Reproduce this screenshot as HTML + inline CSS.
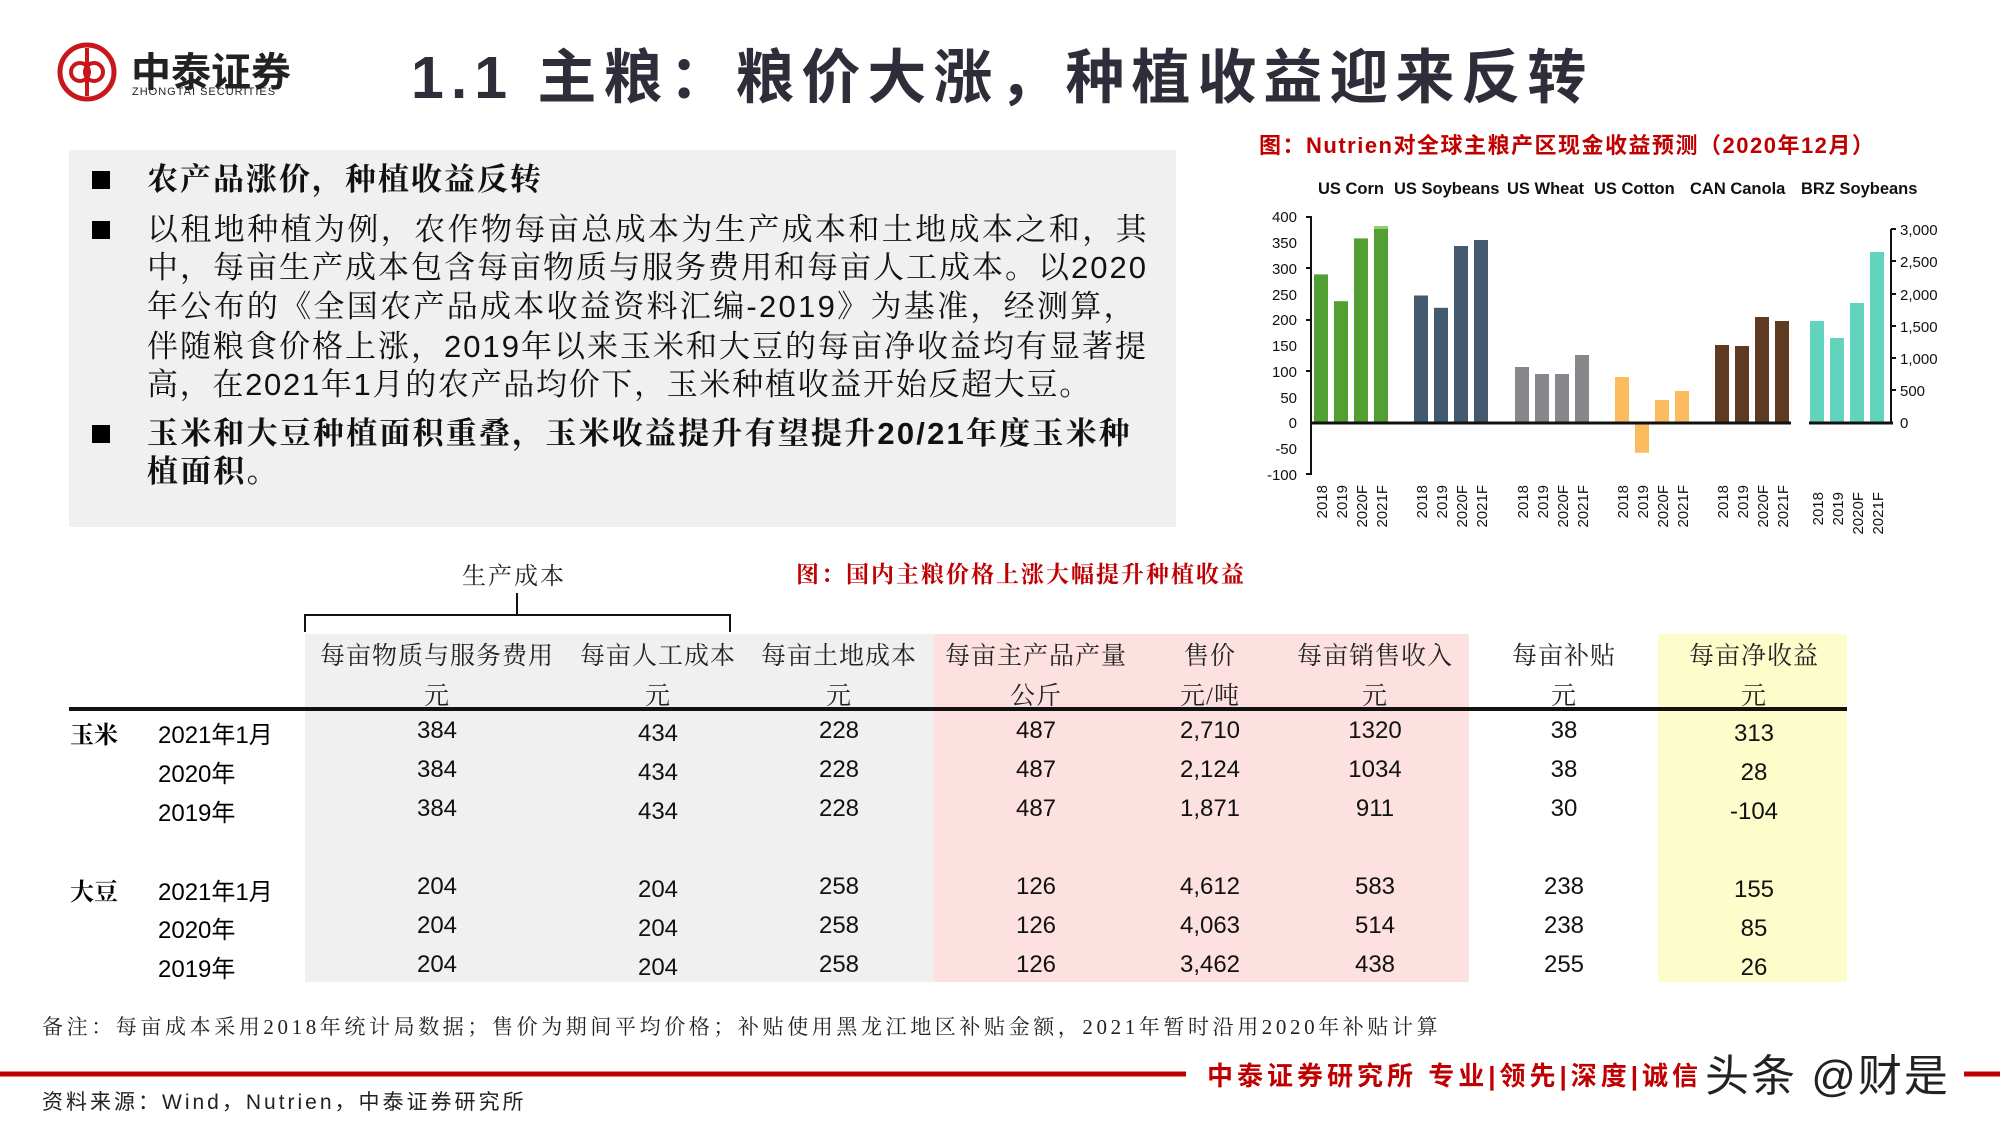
<!DOCTYPE html>
<html><head><meta charset="utf-8"><style>
body{margin:0;width:2000px;height:1125px;background:#fff;position:relative;overflow:hidden;font-family:"Liberation Sans","Noto Sans CJK SC",sans-serif}
.a{position:absolute;white-space:nowrap}
.bl{position:absolute;left:147px;font-size:31px;letter-spacing:2.4px;color:#111;line-height:38px;white-space:nowrap;font-family:"Liberation Sans","Noto Serif CJK SC",serif}
.sq{position:absolute;left:92px;width:18px;height:18px;background:#000}
.c{position:absolute;transform:translateX(-50%);font-size:24px;color:#111;white-space:nowrap}
.h{position:absolute;transform:translateX(-50%);font-size:25px;color:#222;white-space:nowrap;font-family:"Liberation Serif","Noto Serif CJK SC",serif;letter-spacing:1px}
.y{position:absolute;left:158px;font-size:24px}
</style></head><body>
<!-- logo -->
<svg class="a" style="left:55px;top:40px" width="64" height="64"><circle cx="32" cy="32" r="27" fill="none" stroke="#c8161d" stroke-width="5"/><circle cx="25" cy="32" r="9" fill="none" stroke="#c8161d" stroke-width="4"/><circle cx="39" cy="32" r="9" fill="none" stroke="#c8161d" stroke-width="4"/><line x1="32" y1="8" x2="32" y2="56" stroke="#c8161d" stroke-width="4"/></svg>
<div class="a" style="left:131px;top:40px;font-size:40px;font-weight:bold;color:#222">中泰证券</div>
<div class="a" style="left:132px;top:86px;font-size:11px;color:#222;letter-spacing:1px">ZHONGTAI SECURITIES</div>
<div class="a" style="left:411px;top:30px;font-size:59px;font-weight:bold;color:#2e2e3a;letter-spacing:7px">1.1 主粮：粮价大涨，种植收益迎来反转</div>
<!-- gray box -->
<div class="a" style="left:69px;top:150px;width:1107px;height:377px;background:#f0f0f0"></div>
<div class="sq" style="top:171px"></div><div class="bl" style="top:161px;font-weight:bold;letter-spacing:2px">农产品涨价，种植收益反转</div>
<div class="sq" style="top:221px"></div>
<div class="bl" style="top:211px;letter-spacing:2.4px">以租地种植为例，农作物每亩总成本为生产成本和土地成本之和，其</div>
<div class="bl" style="top:249px;letter-spacing:2px">中，每亩生产成本包含每亩物质与服务费用和每亩人工成本。以2020</div>
<div class="bl" style="top:288px;letter-spacing:2.3px">年公布的《全国农产品成本收益资料汇编-2019》为基准，经测算，</div>
<div class="bl" style="top:328px;letter-spacing:2px">伴随粮食价格上涨，2019年以来玉米和大豆的每亩净收益均有显著提</div>
<div class="bl" style="top:366px;letter-spacing:1.7px">高，在2021年1月的农产品均价下，玉米种植收益开始反超大豆。</div>
<div class="sq" style="top:425px"></div>
<div class="bl" style="top:415px;font-weight:bold;letter-spacing:2.2px">玉米和大豆种植面积重叠，玉米收益提升有望提升20/21年度玉米种</div>
<div class="bl" style="top:453px;font-weight:bold;letter-spacing:2.2px">植面积。</div>
<!-- chart -->
<svg class="a" style="left:0;top:0" width="2000" height="1125" font-family="Liberation Sans, sans-serif">
<text x="1259" y="153" font-size="22" font-weight="bold" fill="#c00000" font-family="Liberation Sans, Noto Sans CJK SC, sans-serif" letter-spacing="1.5">图：Nutrien对全球主粮产区现金收益预测（2020年12月）</text>
<g font-size="16.5" font-weight="bold" fill="#111">
<text x="1318" y="194">US Corn</text><text x="1394" y="194">US Soybeans</text><text x="1507" y="194">US Wheat</text><text x="1594" y="194">US Cotton</text><text x="1690" y="194">CAN Canola</text><text x="1801" y="194">BRZ Soybeans</text></g>
<g font-size="15" fill="#111" text-anchor="end">
<text x="1297" y="222">400</text><text x="1297" y="248">350</text><text x="1297" y="274">300</text><text x="1297" y="300">250</text><text x="1297" y="325">200</text><text x="1297" y="351">150</text><text x="1297" y="377">100</text><text x="1297" y="403">50</text><text x="1297" y="428">0</text><text x="1297" y="454">-50</text><text x="1297" y="480">-100</text></g>
<g font-size="15" fill="#111">
<text x="1900" y="235">3,000</text><text x="1900" y="267">2,500</text><text x="1900" y="300">2,000</text><text x="1900" y="332">1,500</text><text x="1900" y="364">1,000</text><text x="1900" y="396">500</text><text x="1900" y="428">0</text></g>
<g stroke="#111" stroke-width="2">
<line x1="1311" y1="216" x2="1311" y2="475"/>
<line x1="1306" y1="217" x2="1311" y2="217"/><line x1="1306" y1="268" x2="1311" y2="268"/><line x1="1306" y1="320" x2="1311" y2="320"/><line x1="1306" y1="371" x2="1311" y2="371"/><line x1="1306" y1="474" x2="1311" y2="474"/>
<line x1="1891" y1="229" x2="1891" y2="423"/>
<line x1="1891" y1="229" x2="1896" y2="229"/><line x1="1891" y1="261" x2="1896" y2="261"/><line x1="1891" y1="294" x2="1896" y2="294"/><line x1="1891" y1="326" x2="1896" y2="326"/><line x1="1891" y1="358" x2="1896" y2="358"/><line x1="1891" y1="390" x2="1896" y2="390"/>
</g>
<g>
<rect x="1314" y="274.4" width="14" height="148.3" fill="#52a034"/><rect x="1334" y="301.2" width="14" height="121.5" fill="#52a034"/><rect x="1354" y="238.4" width="14" height="184.3" fill="#52a034"/><rect x="1374" y="226" width="14" height="196.7" fill="#52a034"/><rect x="1374" y="226" width="14" height="3" fill="#8fcf70"/>
<rect x="1414" y="295.5" width="14" height="127.2" fill="#445a6e"/><rect x="1434" y="307.8" width="14" height="114.9" fill="#445a6e"/><rect x="1454" y="246" width="14" height="176.7" fill="#445a6e"/><rect x="1474" y="240" width="14" height="182.7" fill="#445a6e"/>
<rect x="1515" y="367" width="14" height="55.7" fill="#85878b"/><rect x="1535" y="374" width="14" height="48.7" fill="#85878b"/><rect x="1555" y="374" width="14" height="48.7" fill="#85878b"/><rect x="1575" y="355" width="14" height="67.7" fill="#85878b"/>
<rect x="1615" y="377" width="14" height="45.7" fill="#fbbb5f"/><rect x="1635" y="422.7" width="14" height="30" fill="#fbbb5f"/><rect x="1655" y="400" width="14" height="22.7" fill="#fbbb5f"/><rect x="1675" y="391" width="14" height="31.7" fill="#fbbb5f"/>
<rect x="1715" y="345" width="14" height="77.7" fill="#5e3a21"/><rect x="1735" y="346" width="14" height="76.7" fill="#5e3a21"/><rect x="1755" y="317" width="14" height="105.7" fill="#5e3a21"/><rect x="1775" y="321" width="14" height="101.7" fill="#5e3a21"/>
<rect x="1810" y="321" width="14" height="101.7" fill="#62d4be"/><rect x="1830" y="338" width="14" height="84.7" fill="#62d4be"/><rect x="1850" y="303" width="14" height="119.7" fill="#62d4be"/><rect x="1870" y="252" width="14" height="170.7" fill="#62d4be"/>
</g>
<line x1="1311" y1="423" x2="1791" y2="423" stroke="#111" stroke-width="3"/>
<line x1="1809" y1="423" x2="1893" y2="423" stroke="#111" stroke-width="3"/>
<g font-size="15" fill="#111" text-anchor="end">
<text transform="translate(1327,485) rotate(-90)">2018</text><text transform="translate(1347,485) rotate(-90)">2019</text><text transform="translate(1367,485) rotate(-90)">2020F</text><text transform="translate(1387,485) rotate(-90)">2021F</text>
<text transform="translate(1427,485) rotate(-90)">2018</text><text transform="translate(1447,485) rotate(-90)">2019</text><text transform="translate(1467,485) rotate(-90)">2020F</text><text transform="translate(1487,485) rotate(-90)">2021F</text>
<text transform="translate(1528,485) rotate(-90)">2018</text><text transform="translate(1548,485) rotate(-90)">2019</text><text transform="translate(1568,485) rotate(-90)">2020F</text><text transform="translate(1588,485) rotate(-90)">2021F</text>
<text transform="translate(1628,485) rotate(-90)">2018</text><text transform="translate(1648,485) rotate(-90)">2019</text><text transform="translate(1668,485) rotate(-90)">2020F</text><text transform="translate(1688,485) rotate(-90)">2021F</text>
<text transform="translate(1728,485) rotate(-90)">2018</text><text transform="translate(1748,485) rotate(-90)">2019</text><text transform="translate(1768,485) rotate(-90)">2020F</text><text transform="translate(1788,485) rotate(-90)">2021F</text>
<text transform="translate(1823,492) rotate(-90)">2018</text><text transform="translate(1843,492) rotate(-90)">2019</text><text transform="translate(1863,492) rotate(-90)">2020F</text><text transform="translate(1883,492) rotate(-90)">2021F</text>
</g>
<!-- bracket -->
<path d="M305 632 V615 H730 V632 M517 615 V593" fill="none" stroke="#111" stroke-width="2"/>
<!-- footer line -->
<line x1="0" y1="1074" x2="1186" y2="1074" stroke="#c00000" stroke-width="5"/>
<line x1="1964" y1="1074" x2="2000" y2="1074" stroke="#c00000" stroke-width="5"/>
</svg>
<!-- table -->
<div class="a" style="left:462px;top:556px;font-size:24px;letter-spacing:2px;color:#222;font-family:'Liberation Serif','Noto Serif CJK SC',serif">生产成本</div>
<div class="a" style="left:796px;top:556px;font-size:23px;font-weight:bold;color:#c00000;letter-spacing:2px;font-family:'Liberation Serif','Noto Serif CJK SC',serif">图：国内主粮价格上涨大幅提升种植收益</div>
<div class="a" style="left:305px;top:634px;width:629px;height:348px;background:#f0f0f0"></div>
<div class="a" style="left:934px;top:634px;width:535px;height:348px;background:#fde1e1"></div>
<div class="a" style="left:1658px;top:634px;width:189px;height:348px;background:#fdfdcb"></div>
<div class="a" style="left:69px;top:707px;width:1778px;height:4px;background:#111"></div>
<div class="h" style="left:437px;top:636px">每亩物质与服务费用</div><div class="h" style="left:658px;top:636px">每亩人工成本</div><div class="h" style="left:839px;top:636px">每亩土地成本</div><div class="h" style="left:1036px;top:636px">每亩主产品产量</div><div class="h" style="left:1210px;top:636px">售价</div><div class="h" style="left:1375px;top:636px">每亩销售收入</div><div class="h" style="left:1564px;top:636px">每亩补贴</div><div class="h" style="left:1754px;top:636px">每亩净收益</div>
<div class="h" style="left:437px;top:676px">元</div><div class="h" style="left:658px;top:676px">元</div><div class="h" style="left:839px;top:676px">元</div><div class="h" style="left:1036px;top:676px">公斤</div><div class="h" style="left:1210px;top:676px">元/吨</div><div class="h" style="left:1375px;top:676px">元</div><div class="h" style="left:1564px;top:676px">元</div><div class="h" style="left:1754px;top:676px">元</div>
<div class="a" style="left:70px;top:715px;font-size:24px;font-weight:bold;font-family:'Liberation Serif','Noto Serif CJK SC',serif">玉米</div>
<div class="a" style="left:70px;top:872px;font-size:24px;font-weight:bold;font-family:'Liberation Serif','Noto Serif CJK SC',serif">大豆</div>
<div class="y" style="top:715px">2021年1月</div><div class="y" style="top:754px">2020年</div><div class="y" style="top:793px">2019年</div>
<div class="y" style="top:872px">2021年1月</div><div class="y" style="top:910px">2020年</div><div class="y" style="top:949px">2019年</div>
<div class="c" style="left:437px;top:717px">384</div><div class="c" style="left:658px;top:720px">434</div><div class="c" style="left:839px;top:717px">228</div><div class="c" style="left:1036px;top:717px">487</div><div class="c" style="left:1210px;top:717px">2,710</div><div class="c" style="left:1375px;top:717px">1320</div><div class="c" style="left:1564px;top:717px">38</div><div class="c" style="left:1754px;top:720px">313</div>
<div class="c" style="left:437px;top:756px">384</div><div class="c" style="left:658px;top:759px">434</div><div class="c" style="left:839px;top:756px">228</div><div class="c" style="left:1036px;top:756px">487</div><div class="c" style="left:1210px;top:756px">2,124</div><div class="c" style="left:1375px;top:756px">1034</div><div class="c" style="left:1564px;top:756px">38</div><div class="c" style="left:1754px;top:759px">28</div>
<div class="c" style="left:437px;top:795px">384</div><div class="c" style="left:658px;top:798px">434</div><div class="c" style="left:839px;top:795px">228</div><div class="c" style="left:1036px;top:795px">487</div><div class="c" style="left:1210px;top:795px">1,871</div><div class="c" style="left:1375px;top:795px">911</div><div class="c" style="left:1564px;top:795px">30</div><div class="c" style="left:1754px;top:798px">-104</div>
<div class="c" style="left:437px;top:873px">204</div><div class="c" style="left:658px;top:876px">204</div><div class="c" style="left:839px;top:873px">258</div><div class="c" style="left:1036px;top:873px">126</div><div class="c" style="left:1210px;top:873px">4,612</div><div class="c" style="left:1375px;top:873px">583</div><div class="c" style="left:1564px;top:873px">238</div><div class="c" style="left:1754px;top:876px">155</div>
<div class="c" style="left:437px;top:912px">204</div><div class="c" style="left:658px;top:915px">204</div><div class="c" style="left:839px;top:912px">258</div><div class="c" style="left:1036px;top:912px">126</div><div class="c" style="left:1210px;top:912px">4,063</div><div class="c" style="left:1375px;top:912px">514</div><div class="c" style="left:1564px;top:912px">238</div><div class="c" style="left:1754px;top:915px">85</div>
<div class="c" style="left:437px;top:951px">204</div><div class="c" style="left:658px;top:954px">204</div><div class="c" style="left:839px;top:951px">258</div><div class="c" style="left:1036px;top:951px">126</div><div class="c" style="left:1210px;top:951px">3,462</div><div class="c" style="left:1375px;top:951px">438</div><div class="c" style="left:1564px;top:951px">255</div><div class="c" style="left:1754px;top:954px">26</div>
<div class="a" style="left:42px;top:1011px;font-size:21px;color:#222;letter-spacing:3.6px;font-family:'Liberation Serif','Noto Serif CJK SC',serif">备注：每亩成本采用2018年统计局数据；售价为期间平均价格；补贴使用黑龙江地区补贴金额，2021年暂时沿用2020年补贴计算</div>
<div class="a" style="left:1207px;top:1056px;font-size:26px;font-weight:bold;color:#c00000;letter-spacing:4px">中泰证券研究所 专业|领先|深度|诚信</div>
<div class="a" style="left:1705px;top:1040px;font-size:44px;color:#222;letter-spacing:2px">头条 @财是</div>
<div class="a" style="left:42px;top:1086px;font-size:21px;color:#222;letter-spacing:3px">资料来源：Wind，Nutrien，中泰证券研究所</div>
</body></html>
